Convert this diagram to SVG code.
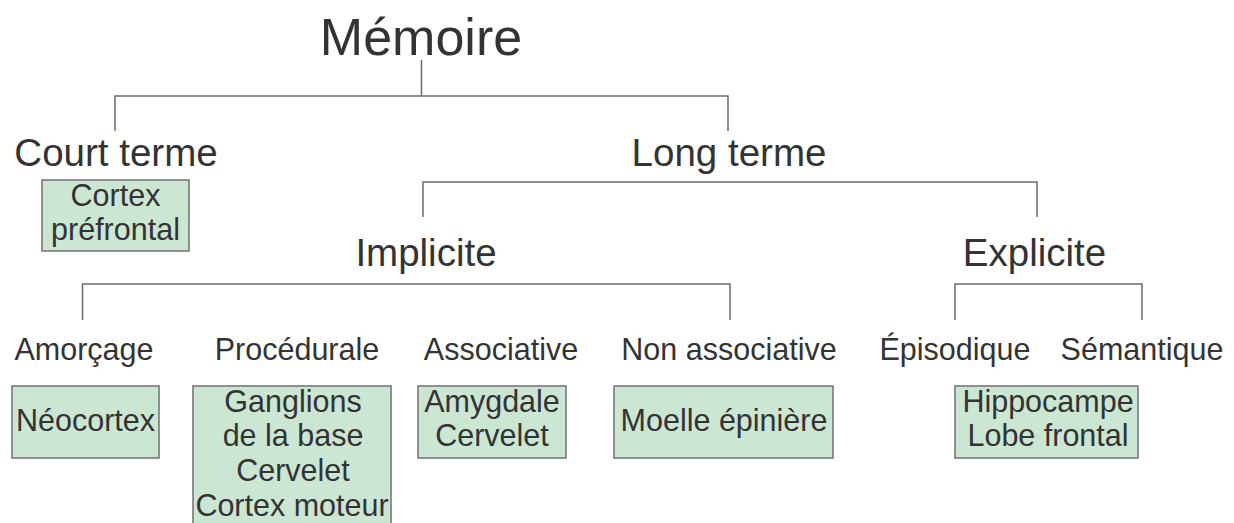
<svg xmlns="http://www.w3.org/2000/svg" width="1234" height="523" viewBox="0 0 1234 523">
  <style>
    text { font-family: "Liberation Sans", Arial, sans-serif; fill: #333333; text-anchor: middle; }
    .t1 { font-size: 52px; }
    .t2 { font-size: 38.5px; }
    .t4 { font-size: 30.5px; }
    .box { fill: #cce6d4; stroke: #707070; stroke-width: 1.5; }
    .conn { fill: none; stroke: #6b6b6b; stroke-width: 1.5; }
  </style>
  <rect width="1234" height="523" fill="#ffffff"/>
  <g id="connectors">
    <path class="conn" d="M421.5,60 V96 M115,131 V96 H728 V131"/>
    <path class="conn" d="M423,217 V182 H1037 V217"/>
    <path class="conn" d="M82.5,320 V284 H730 V320"/>
    <path class="conn" d="M955,320 V284 H1142 V320"/>
  </g>
  <g id="memoire"><text class="t1" x="421" y="55">Mémoire</text></g>
  <g id="court-terme"><text class="t2" x="116" y="166">Court terme</text></g>
  <g id="cortex-prefrontal">
    <rect class="box" x="42" y="180" width="147" height="71"/>
    <text class="t4" x="115.5" y="206">Cortex</text>
    <text class="t4" x="115.5" y="240">préfrontal</text>
  </g>
  <g id="long-terme"><text class="t2" x="729" y="166">Long terme</text></g>
  <g id="implicite"><text class="t2" x="426" y="266">Implicite</text></g>
  <g id="explicite"><text class="t2" x="1034.5" y="266">Explicite</text></g>
  <g id="amorcage"><text class="t4" x="84" y="360">Amorçage</text></g>
  <g id="procedurale"><text class="t4" x="297" y="360">Procédurale</text></g>
  <g id="associative"><text class="t4" x="501" y="360">Associative</text></g>
  <g id="non-associative"><text class="t4" x="729" y="360">Non associative</text></g>
  <g id="episodique"><text class="t4" x="955" y="360">Épisodique</text></g>
  <g id="semantique"><text class="t4" x="1142" y="360">Sémantique</text></g>
  <g id="neocortex">
    <rect class="box" x="12" y="386" width="147" height="72"/>
    <text class="t4" x="85.5" y="431">Néocortex</text>
  </g>
  <g id="ganglions">
    <rect class="box" x="193" y="386" width="198" height="150"/>
    <text class="t4" x="293" y="411.5">Ganglions</text>
    <text class="t4" x="293" y="446">de la base</text>
    <text class="t4" x="293" y="481">Cervelet</text>
    <text class="t4" x="292" y="515.5">Cortex moteur</text>
  </g>
  <g id="amygdale">
    <rect class="box" x="418" y="386" width="148" height="72"/>
    <text class="t4" x="492" y="411.5">Amygdale</text>
    <text class="t4" x="492" y="446">Cervelet</text>
  </g>
  <g id="moelle">
    <rect class="box" x="614" y="386" width="219" height="72"/>
    <text class="t4" x="724" y="431">Moelle épinière</text>
  </g>
  <g id="hippocampe">
    <rect class="box" x="955" y="386" width="183" height="72"/>
    <text class="t4" x="1048" y="411.5">Hippocampe</text>
    <text class="t4" x="1048" y="446">Lobe frontal</text>
  </g>
</svg>
